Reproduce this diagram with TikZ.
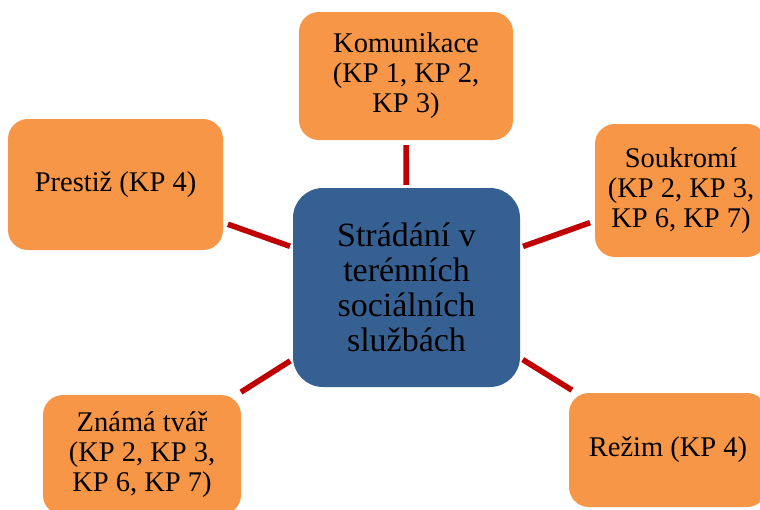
\documentclass[tikz,border=0pt]{standalone}
\usepackage{fontspec}
\setmainfont{Liberation Serif}
\definecolor{boxorange}{HTML}{F79646}
\definecolor{hubblue}{HTML}{376092}
\definecolor{linkred}{HTML}{C00000}
\tikzset{
  leaf/.style={fill=boxorange, rounded corners=20pt, inner sep=0pt, align=center,
    font=\fontsize{28.5}{30}\selectfont, text=black},
  hub/.style={fill=hubblue, rounded corners=30pt, inner sep=0pt, align=center,
    font=\fontsize{34}{35}\selectfont, text=black,
    minimum width=227pt, minimum height=199pt},
  link/.style={draw=linkred, line width=5.6pt, shorten <=5pt, shorten >=3pt}
}
\begin{document}
\begin{tikzpicture}[x=1pt,y=-1pt]
\useasboundingbox (0,0) rectangle (760,509);
\clip (0,0) rectangle (760,509);
% central topic
\node[hub] (center) at (406.5,287.5) {Strádání v\\terénních\\sociálních\\službách};
% surrounding topics
\node[leaf, minimum width=214pt, minimum height=128pt] (komm) at (406,76) {Komunikace\\(KP 1, KP 2,\\KP 3)};
\node[leaf, minimum width=215pt, minimum height=131pt] (prest) at (115.5,184.5) {Prestiž (KP 4)};
\node[leaf, minimum width=172pt, minimum height=133pt] (souk) at (681,190.5) {Soukromí\\(KP 2, KP 3,\\KP 6, KP 7)};
\node[leaf, minimum width=198pt, minimum height=120pt] (znama) at (142,455) {Známá tvář\\(KP 2, KP 3,\\KP 6, KP 7)};
\node[leaf, minimum width=198pt, minimum height=114pt] (rezim) at (668,450) {Režim (KP 4)};
% connectors
\draw[link] (komm) -- (center);
\draw[link] (prest) -- (center);
\draw[link] (souk) -- (center);
\draw[link] (znama) -- (center);
\draw[link] (rezim) -- (center);
\end{tikzpicture}
\end{document}
